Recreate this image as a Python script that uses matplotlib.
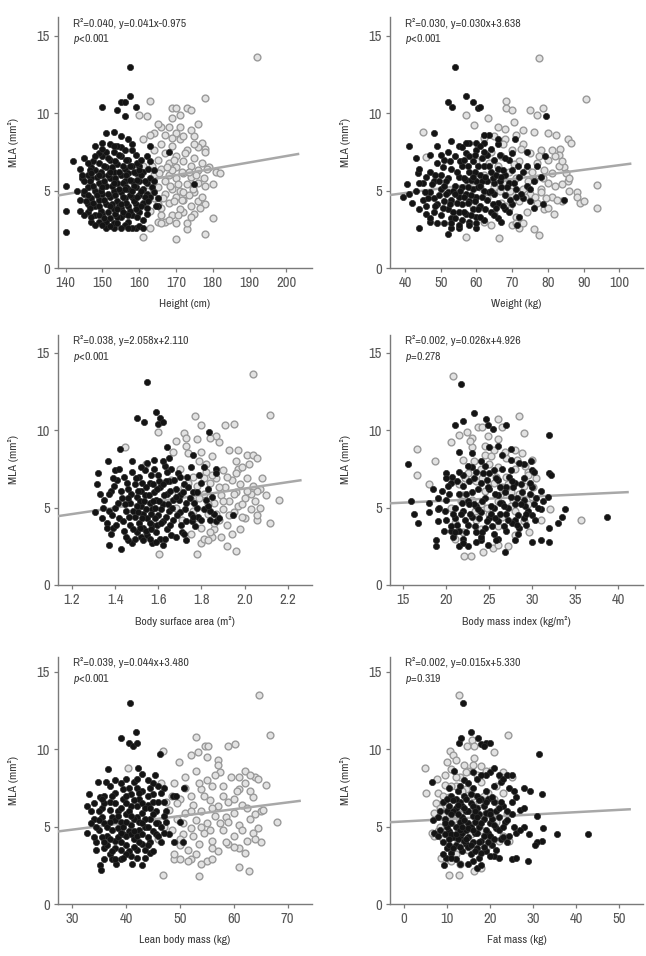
import numpy as np
import matplotlib.pyplot as plt
from matplotlib import font_manager

# ---- data (black = filled dots, gray = open circles) ----
height_black_x = [140, 140, 140, 142, 144, 145, 144.5, 145, 144, 146, 147, 148, 149, 150, 150, 151, 151, 153, 153, 154,
                  155, 156, 156, 157.5, 157.5, 159, 155, 157, 158, 160, 159, 158, 157, 155, 162, 163, 165, 165, 168, 175,
                  164, 162, 146, 147, 147, 148, 148, 148, 149, 149, 149, 150, 150, 150, 150, 151, 151, 151, 152, 152,
                  152, 152, 153, 153, 153, 153, 154, 154, 154, 154, 155, 155, 155, 155, 156, 156, 156, 156, 157, 157,
                  157, 157, 158, 158, 158, 158, 159, 159, 159, 160, 160, 160, 161, 161, 161, 162, 163, 163, 146, 147,
                  145, 146, 148, 151, 153, 156, 160, 149, 152, 155, 158, 151, 154]
height_black_y = [5.3, 3.7, 2.3, 6.9, 6.4, 7.1, 5.8, 4.8, 3.7, 3.6, 3.0, 7.9, 3.0, 10.4, 8.1, 8.7, 2.6, 8.8, 2.6, 10.2,
                  10.7, 10.7, 9.8, 13.0, 11.1, 10.4, 8.5, 8.3, 7.6, 6.6, 2.6, 2.6, 3.0, 3.3, 4.8, 7.9, 4.5, 4.0, 7.5, 5.4,
                  6.3, 5.5, 5.2, 4.5, 5.8, 4.0, 5.0, 6.3, 4.4, 5.5, 6.8, 3.5, 4.8, 6.0, 7.2, 4.1, 5.3, 6.5, 3.2, 4.6,
                  5.8, 7.0, 3.8, 5.0, 6.2, 7.5, 3.3, 4.3, 5.5, 6.7, 3.9, 4.9, 6.0, 7.2, 3.5, 4.5, 5.6, 6.4, 4.0, 5.1,
                  6.1, 7.0, 3.4, 4.6, 5.6, 6.6, 4.1, 5.2, 6.1, 3.6, 4.7, 5.6, 4.2, 5.1, 6.2, 3.9, 4.6, 5.8, 4.1, 6.5,
                  5.0, 6.0, 3.4, 3.0, 2.9, 2.8, 2.7, 7.4, 8.0, 7.8, 8.0, 7.5, 7.9]
height_black_more = [(145.5, 4.3), (146.5, 5.6), (146.5, 3.9), (147.5, 4.2), (147.5, 5.3), (147.5, 6.9), (148.5, 4.7),
                     (148.5, 5.9), (149.5, 3.7), (149.5, 5.0), (149.5, 6.2), (150.5, 4.4), (150.5, 5.6), (150.5, 6.6),
                     (151.5, 3.6), (151.5, 4.8), (151.5, 6.0), (151.5, 7.1), (152.5, 4.1), (152.5, 5.3), (152.5, 6.5),
                     (153.5, 3.5), (153.5, 4.7), (153.5, 5.8), (153.5, 6.9), (154.5, 4.0), (154.5, 5.1), (154.5, 6.2),
                     (154.5, 7.3), (155.5, 3.6), (155.5, 4.6), (155.5, 5.5), (155.5, 6.6), (156.5, 4.2), (156.5, 5.2),
                     (156.5, 6.0), (156.5, 7.0), (157.5, 3.7), (157.5, 4.7), (157.5, 5.7), (157.5, 6.6), (158.5, 4.3),
                     (158.5, 5.3), (158.5, 6.2), (159.5, 3.3), (159.5, 4.6), (159.5, 5.7), (159.5, 6.8), (160.5, 4.0),
                     (160.5, 5.0), (160.5, 6.0), (161.5, 4.6), (161.5, 5.6), (162.5, 4.3), (162.5, 6.4), (163.5, 5.2),
                     (164, 4.9), (146, 4.7), (145, 5.6), (144, 4.4), (143, 5.0),
                     (145, 3.4), (146, 6.8), (147, 3.3), (148, 2.8), (149, 3.4), (150, 2.8), (152, 2.7), (154, 2.9),
                     (155, 2.6), (157, 2.6), (146.5, 6.3), (148, 7.2), (150, 7.7), (153, 7.9), (156, 7.6), (159, 7.3),
                     (160.5, 7.0), (162, 7.2), (163, 6.9), (164, 5.6), (164.5, 4.0), (162, 3.5), (161, 3.1), (149, 4.0),
                     (150, 5.2), (152, 4.0), (153, 5.5), (155, 4.1), (156, 5.1), (158, 5.0), (159, 3.8), (160, 6.3),
                     (147, 6.1), (144.5, 6.0), (161, 2.6), (150.5, 3.2), (154, 3.8), (157, 3.4), (152, 6.2), (149, 6.0)]
height_gray_x = [192, 178, 163, 169, 170, 173, 174, 160, 162, 169, 176, 166, 168, 171, 164, 170, 175, 177, 161, 178,
                 178, 181, 182, 179, 180, 178, 176, 178, 180, 178, 173, 170, 161, 163, 165, 167, 170, 173, 175, 172,
                 163, 164, 164, 165, 165, 166, 166, 166, 167, 167, 167, 168, 168, 168, 169, 169, 169, 170, 170, 170,
                 170, 171, 171, 171, 172, 172, 172, 173, 173, 174, 174, 174, 175, 175, 176, 176, 177, 177, 164, 162,
                 161, 163, 165, 171, 172, 174, 176, 168, 166, 172, 169, 165]
height_gray_y = [13.6, 11.0, 10.8, 10.3, 10.3, 10.3, 10.2, 9.9, 9.8, 9.7, 9.3, 9.1, 9.1, 9.1, 8.7, 8.7, 8.5, 8.1, 8.3, 7.7,
                 7.5, 6.2, 6.1, 6.5, 5.4, 5.3, 4.3, 4.1, 3.2, 2.2, 2.5, 1.9, 2.0, 2.6, 3.0, 3.0, 2.9, 2.9, 3.5, 3.6,
                 3.7, 4.5, 6.0, 5.2, 7.0, 3.9, 6.4, 8.0, 4.8, 5.6, 7.4, 4.2, 6.0, 6.8, 3.4, 5.1, 7.9, 4.6, 5.8, 6.5,
                 7.2, 3.8, 5.0, 8.3, 4.4, 6.1, 6.9, 5.4, 7.6, 4.0, 5.9, 6.6, 4.9, 7.1, 5.5, 6.3, 4.6, 6.8, 7.6, 5.0,
                 6.6, 8.6, 9.3, 9.9, 8.5, 8.9, 7.8, 3.1, 2.9, 4.9, 6.3, 4.1]
height_gray_more = [(165.5, 6.1), (166.5, 4.5), (167.5, 6.5), (168.5, 5.3), (169.5, 4.3), (169.5, 7.0), (170.5, 5.4),
                    (171.5, 6.2), (171.5, 4.4), (172.5, 7.4), (173.5, 4.7), (173.5, 6.2), (174.5, 5.1), (175.5, 6.0),
                    (176.5, 3.9), (177.5, 5.8), (167, 8.6), (169, 8.4), (163.5, 6.6), (178.5, 6.4), (175, 8.0),
                    (170.5, 3.4), (166, 3.4), (174, 3.3)]

weight_black_x = [39.5, 40.5, 41, 41.2, 42, 43.5, 43, 44, 44, 47, 48, 49, 52, 53.2, 54.1, 53, 52, 55, 57, 59,
                  60.5, 61, 58, 60, 62, 63.4, 60, 66, 70.7, 74.1, 71.3, 79.5, 79.3, 78.6, 84.5, 68, 46, 47, 47, 48,
                  48, 48, 49, 49, 50, 50, 50, 51, 51, 52, 52, 52, 53, 53, 53, 54, 54, 55, 55, 55,
                  56, 56, 56, 56, 57, 57, 57, 57, 58, 58, 58, 59, 59, 59, 60, 60, 60, 60, 61, 61,
                  62, 62, 62, 63, 63, 63, 64, 64, 65, 65, 65, 66, 66, 66, 67, 67, 68, 68, 69, 69,
                  70, 70, 71, 72, 73, 74, 75, 76, 45, 44, 46, 51, 53, 55, 57, 61, 62, 47, 45, 43]
weight_black_y = [4.6, 5.4, 7.9, 4.8, 4.2, 6.1, 7.1, 2.6, 6.4, 3.0, 8.7, 7.9, 10.7, 10.4, 13.0, 2.6, 2.2, 2.6, 11.1, 10.7,
                  10.3, 10.4, 8.1, 8.1, 8.1, 8.6, 2.6, 8.0, 8.3, 7.5, 2.8, 9.8, 7.2, 4.1, 4.4, 3.8, 4.0, 4.9, 6.2, 3.6,
                  4.5, 5.6, 4.1, 6.8, 3.4, 5.1, 6.0, 4.3, 7.0, 3.8, 4.9, 5.8, 3.2, 4.4, 6.4, 5.3, 7.2, 3.6, 4.6, 5.9,
                  3.1, 4.1, 5.2, 6.6, 3.5, 4.8, 5.7, 7.4, 3.0, 4.3, 6.2, 3.8, 5.1, 6.9, 3.3, 4.6, 5.6, 7.6, 4.0, 6.0,
                  3.1, 5.0, 6.6, 4.4, 5.6, 7.3, 3.6, 6.2, 4.8, 5.5, 7.0, 3.2, 4.2, 6.4, 5.2, 3.0, 4.7, 6.0, 5.5, 7.0,
                  4.1, 6.3, 5.1, 5.9, 4.5, 6.6, 4.3, 5.6, 5.5, 3.8, 5.9, 2.9, 8.2, 7.9, 8.1, 7.9, 8.6, 7.3, 4.4, 5.0]
weight_black_more = [(46.5, 4.5), (47.5, 5.4), (48.5, 4.0), (48.5, 6.0), (49.5, 4.7), (49.5, 5.6), (50.5, 3.9),
                     (50.5, 6.5), (51.5, 4.8), (51.5, 5.6), (52.5, 4.1), (52.5, 6.9), (53.5, 5.0), (53.5, 3.6),
                     (54.5, 4.2), (54.5, 6.2), (55.5, 5.0), (55.5, 6.9), (56.5, 3.6), (56.5, 4.6), (56.5, 5.8),
                     (57.5, 4.2), (57.5, 5.2), (57.5, 6.6), (58.5, 3.4), (58.5, 4.7), (58.5, 5.7), (59.5, 4.3),
                     (59.5, 6.2), (59.5, 7.3), (60.5, 3.8), (60.5, 5.2), (60.5, 6.6), (61.5, 4.6), (61.5, 5.6),
                     (61.5, 7.1), (62.5, 3.8), (62.5, 5.9), (63.5, 4.9), (63.5, 6.6), (64.5, 4.1), (64.5, 5.8),
                     (65.5, 3.9), (65.5, 6.0), (66.5, 5.6), (66.5, 7.3), (67.5, 4.0), (67.5, 6.3), (68.5, 5.2),
                     (69.5, 4.4), (70.5, 5.5), (71.5, 6.6), (72.5, 4.8), (74, 5.3),
                     (45.5, 4.9), (46, 3.5), (47, 3.2), (49, 2.9), (50, 7.3), (52, 7.5), (53, 2.9), (54, 3.2),
                     (55, 2.8), (56, 7.8), (58, 7.2), (58, 2.8), (60, 2.9), (61, 3.3), (62, 7.5), (64, 7.7),
                     (65, 3.4), (66, 8.3), (68, 7.1), (69, 3.6), (70, 7.4), (71, 4.6), (72, 3.3), (73, 6.2),
                     (75, 5.1), (76, 3.9), (77, 6.6), (78, 5.9), (51, 5.3), (54, 4.8), (56.5, 7.0), (59, 5.9),
                     (61, 5.3), (64, 5.0), (67, 5.9), (44, 5.5)]
weight_gray_x = [45.1, 45.9, 57.1, 57, 59.2, 63.2, 68.2, 68.3, 70, 70.5, 75, 77.6, 78.5, 77, 80, 82.3, 85.5, 86.5, 83.5, 83,
                 82, 84.5, 85, 85.5, 84, 86, 84, 88, 88, 89, 90, 90.7, 93.7, 93.7, 81.6, 76, 77.4, 66.4, 70, 72,
                 73, 62, 63, 64, 65, 65, 65, 66, 67, 67, 68, 68, 69, 69, 70, 70, 71, 71, 72, 72,
                 73, 73, 74, 74, 75, 75, 76, 76, 77, 77, 78, 78, 79, 79, 80, 80, 81, 81, 82, 83,
                 66, 68, 71, 73, 62, 64, 60, 61, 59, 80, 78]
weight_gray_y = [8.8, 7.15, 2.0, 9.9, 9.25, 9.7, 10.8, 10.3, 10.2, 9.4, 10.2, 13.55, 10.3, 9.9, 8.7, 8.6, 8.3, 8.1, 7.7, 7.3,
                 7.2, 6.5, 6.1, 5.6, 5.4, 5.0, 4.3, 4.9, 4.6, 4.2, 4.3, 10.9, 5.35, 3.9, 3.5, 2.5, 2.1, 1.95, 2.8, 2.6,
                 2.9, 6.0, 4.5, 7.5, 3.5, 5.2, 8.5, 6.6, 4.2, 7.2, 5.4, 8.3, 3.9, 6.2, 4.8, 7.6, 5.8, 3.3, 6.9, 4.3,
                 5.1, 8.0, 3.6, 6.4, 4.8, 7.4, 5.7, 8.8, 4.2, 6.8, 5.1, 7.6, 6.3, 3.8, 5.5, 7.0, 4.6, 6.1, 5.3, 6.6,
                 9.1, 9.0, 8.6, 8.9, 3.0, 2.8, 6.9, 5.2, 4.0, 3.9, 4.9]
weight_gray_more = [(63.5, 6.8), (66.5, 5.0), (67.5, 8.0), (69.5, 5.0), (70.5, 6.7), (72.5, 7.7), (73.5, 4.6),
                    (74.5, 5.6), (75.5, 6.2), (76.5, 4.6), (77.5, 7.2), (78.5, 5.8), (79.5, 4.5), (81, 7.6),
                    (82.5, 4.4), (71, 2.9), (84, 6.9), (86, 5.8), (68, 4.0), (62, 8.4)]

bsa_black_x = [1.307, 1.315, 1.322, 1.368, 1.373, 1.426, 1.423, 1.48, 1.50, 1.536, 1.546, 1.59, 1.60, 1.61, 1.62, 1.623,
               1.834, 1.76, 1.87, 1.87, 1.945, 1.87, 1.84, 1.86, 1.727, 1.64, 1.65, 1.35, 1.36, 1.38, 1.39, 1.40,
               1.41, 1.42, 1.43, 1.44, 1.44, 1.45, 1.46, 1.47, 1.47, 1.48, 1.49, 1.49, 1.50, 1.50, 1.51, 1.51,
               1.52, 1.52, 1.53, 1.53, 1.54, 1.54, 1.55, 1.55, 1.56, 1.56, 1.57, 1.57, 1.58, 1.58, 1.59, 1.59,
               1.60, 1.60, 1.61, 1.61, 1.62, 1.62, 1.63, 1.64, 1.64, 1.65, 1.65, 1.66, 1.67, 1.67, 1.68, 1.69,
               1.70, 1.70, 1.71, 1.72, 1.73, 1.73, 1.75, 1.75, 1.76, 1.77, 1.78, 1.80, 1.82, 1.84, 1.37, 1.46,
               1.52, 1.57, 1.48, 1.55, 1.62, 1.39]
bsa_black_y = [4.7, 6.5, 7.2, 8.0, 2.6, 2.3, 8.8, 2.7, 10.8, 10.5, 13.1, 11.2, 10.4, 10.8, 10.5, 2.6,
               9.9, 8.4, 7.5, 7.2, 4.5, 4.1, 4.2, 4.6, 2.9, 8.9, 8.2, 5.5, 4.0, 6.1, 3.7, 5.0,
               6.8, 4.3, 5.6, 3.5, 7.0, 4.8, 6.2, 3.9, 5.3, 7.3, 4.4, 6.5, 3.4, 5.7, 4.0, 7.0,
               5.1, 6.1, 3.7, 4.6, 5.8, 7.4, 3.2, 4.3, 5.3, 6.6, 3.9, 4.9, 6.0, 8.1, 3.4, 5.5,
               4.5, 7.1, 3.0, 6.3, 4.1, 5.2, 7.7, 3.6, 5.9, 4.8, 6.7, 3.2, 5.5, 4.2, 6.2, 7.2,
               4.7, 5.8, 3.4, 6.5, 4.1, 5.3, 4.6, 7.6, 6.0, 3.8, 5.0, 6.6, 5.5, 4.8, 4.8, 2.9,
               3.1, 2.7, 8.0, 7.9, 8.0, 6.9]
bsa_black_more = [(1.345, 5.0), (1.37, 5.9), (1.385, 4.5), (1.395, 6.4), (1.405, 3.9), (1.415, 5.3), (1.425, 6.1),
                  (1.435, 4.1), (1.445, 5.2), (1.455, 6.6), (1.465, 4.4), (1.475, 5.9), (1.485, 3.6), (1.485, 4.8),
                  (1.495, 6.9), (1.505, 4.7), (1.505, 6.1), (1.515, 3.7), (1.515, 5.4), (1.525, 4.3), (1.525, 6.6),
                  (1.535, 5.4), (1.545, 3.5), (1.545, 4.9), (1.545, 6.3), (1.555, 5.8), (1.565, 3.6), (1.565, 4.6),
                  (1.565, 7.1), (1.575, 5.4), (1.575, 6.5), (1.585, 4.3), (1.585, 5.0), (1.595, 6.2), (1.595, 3.9),
                  (1.605, 5.4), (1.605, 6.7), (1.615, 4.0), (1.615, 4.9), (1.625, 5.8), (1.635, 4.4), (1.635, 6.7),
                  (1.645, 5.2), (1.655, 3.9), (1.655, 6.1), (1.665, 5.0), (1.675, 6.8), (1.685, 4.5), (1.695, 5.5),
                  (1.705, 3.9), (1.715, 6.0), (1.725, 4.9), (1.735, 7.0), (1.745, 5.6), (1.755, 4.1), (1.765, 5.3),
                  (1.785, 4.4), (1.79, 7.1), (1.81, 4.9), (1.83, 6.2),
                  (1.33, 5.9), (1.34, 4.3), (1.36, 3.7), (1.38, 3.3), (1.40, 7.4), (1.42, 7.5), (1.45, 3.1),
                  (1.49, 3.0), (1.53, 2.9), (1.56, 3.0), (1.59, 2.8), (1.63, 3.0), (1.66, 7.5), (1.68, 3.1),
                  (1.70, 7.0), (1.72, 3.3), (1.74, 6.3), (1.76, 4.4), (1.78, 6.0), (1.80, 4.2), (1.81, 7.6),
                  (1.83, 5.1), (1.85, 5.7), (1.88, 4.3), (1.52, 7.6), (1.58, 7.5), (1.64, 7.3), (1.46, 5.6),
                  (1.50, 5.1), (1.56, 4.0), (1.62, 6.5), (1.68, 5.7)]
bsa_gray_x = [1.448, 1.544, 1.53, 1.605, 1.60, 1.68, 1.72, 1.73, 1.77, 1.80, 1.78, 1.80, 1.81, 1.85, 1.83, 1.87,
              1.91, 1.95, 1.93, 1.97, 2.04, 2.01, 2.04, 2.06, 2.02, 2.12, 2.16, 2.12, 2.07, 2.06, 2.06, 2.07,
              2.06, 2.00, 1.98, 1.96, 1.92, 1.94, 1.97, 1.99, 1.96, 2.03, 1.66, 1.68, 1.70, 1.72, 1.74, 1.75,
              1.76, 1.77, 1.78, 1.79, 1.80, 1.81, 1.82, 1.83, 1.84, 1.85, 1.86, 1.86, 1.87, 1.88, 1.89, 1.90,
              1.90, 1.91, 1.92, 1.93, 1.94, 1.95, 1.96, 1.97, 1.98, 1.99, 2.00, 2.01, 2.03, 2.04, 1.88, 1.84,
              1.82, 1.78, 1.73, 1.86, 1.89, 1.71, 1.69]
bsa_gray_y = [8.9, 7.8, 3.1, 2.0, 9.9, 9.3, 9.8, 9.0, 10.9, 10.3, 2.0, 2.7, 3.0, 3.1, 2.9, 9.6,
              10.3, 10.4, 8.7, 8.7, 13.6, 8.4, 8.4, 8.2, 7.8, 11.0, 5.5, 4.0, 5.0, 4.2, 4.5, 6.2,
              6.1, 4.3, 3.6, 2.2, 2.5, 3.3, 7.5, 7.6, 7.2, 5.9, 6.8, 5.0, 7.5, 6.3, 8.5, 5.5,
              7.0, 4.3, 6.4, 8.0, 3.7, 5.9, 7.3, 4.6, 6.6, 8.3, 3.6, 5.3, 6.9, 4.2, 5.8, 7.4,
              4.9, 6.3, 3.9, 5.4, 6.8, 4.7, 6.0, 5.1, 6.5, 4.4, 5.6, 6.9, 4.9, 6.4, 9.2, 9.5,
              7.8, 9.4, 9.5, 4.0, 3.1, 4.2, 6.0]
bsa_gray_more = [(1.74, 6.6), (1.76, 4.8), (1.79, 5.6), (1.81, 6.9), (1.83, 5.2), (1.85, 7.1), (1.87, 4.6),
                 (1.88, 6.3), (1.90, 5.4), (1.92, 7.0), (1.93, 4.5), (1.95, 5.9), (1.96, 8.0), (1.99, 5.2),
                 (2.01, 6.1), (2.05, 5.4), (2.08, 6.9), (1.80, 8.6), (1.75, 3.3), (1.84, 3.4), (2.10, 5.8),
                 (1.67, 8.6)]

bmi_black_x = [15.5, 15.9, 16.2, 16.7, 18, 18, 19, 19, 18.8, 18.8, 20, 20, 21, 21.5, 22, 21.7, 23.2, 24.6, 24.9, 25.4,
               26.9, 29, 29.9, 30, 30.2, 32, 32, 32.2, 31.8, 31.9, 31.9, 33, 33.5, 33.8, 38.7, 31, 30, 26.8, 24, 22.5,
               21.5, 20.5, 28, 29, 30, 31, 31, 28.8, 19.5, 20, 20, 20.5, 20.5, 21, 21, 21.5, 21.5, 22, 22, 22,
               22.5, 22.5, 23, 23, 23, 23.5, 23.5, 24, 24, 24, 24.5, 24.5, 25, 25, 25, 25.5, 25.5, 26, 26, 26,
               26.5, 26.5, 27, 27, 27, 27.5, 27.5, 28, 28, 28, 28.5, 28.5, 29, 29, 29.5, 30, 30.5, 23, 25, 26,
               22, 24, 26, 19, 18.5, 27.5]
bmi_black_y = [7.8, 5.4, 4.6, 4.0, 5.3, 4.7, 4.9, 4.1, 2.9, 2.5, 7.2, 6.9, 10.3, 8.6, 10.6, 13.0, 11.1, 10.7, 10.3, 10.1,
               10.3, 7.8, 8.0, 7.4, 7.3, 9.7, 7.2, 7.1, 5.7, 3.7, 2.8, 4.0, 4.4, 4.9, 4.4, 2.9, 2.8, 2.1, 2.9, 2.5,
               2.5, 3.5, 2.9, 4.3, 4.5, 4.9, 6.1, 6.0, 6.1, 5.5, 4.2, 3.8, 6.6, 5.0, 4.3, 5.9, 3.5, 4.8, 6.4, 7.1,
               5.4, 3.9, 6.0, 4.4, 7.6, 5.1, 3.4, 6.6, 4.7, 8.0, 5.6, 3.7, 4.3, 6.2, 7.2, 5.0, 3.3, 5.8, 4.1, 6.8,
               5.3, 8.4, 4.6, 6.3, 3.5, 5.7, 7.4, 4.2, 5.2, 6.6, 3.7, 7.9, 5.5, 6.9, 4.8, 6.3, 5.6, 8.5, 8.9, 9.0,
               3.0, 3.1, 3.0, 5.6, 6.2, 8.8]
bmi_black_more = [(19.8, 4.8), (20.3, 5.9), (20.8, 4.6), (21.2, 6.7), (21.3, 3.9), (21.8, 5.3), (22.2, 4.2),
                  (22.3, 5.9), (22.7, 6.7), (22.8, 4.6), (23.2, 5.2), (23.3, 3.8), (23.7, 6.2), (23.8, 4.3),
                  (24.2, 5.4), (24.3, 7.2), (24.7, 4.1), (24.8, 6.3), (25.2, 5.1), (25.3, 3.8), (25.7, 5.9),
                  (25.8, 6.9), (26.2, 4.6), (26.3, 5.3), (26.7, 3.8), (26.8, 6.0), (27.2, 5.0), (27.3, 7.0),
                  (27.7, 4.0), (27.8, 6.3), (28.2, 5.6), (28.3, 4.5), (28.7, 6.5), (29.2, 5.1), (29.3, 3.9),
                  (29.8, 5.9), (30.2, 5.2), (22.5, 7.7), (24.5, 7.7), (26.5, 7.5), (20.8, 3.1), (23.5, 2.8),
                  (25.8, 2.9), (28.3, 3.3), (21.5, 7.3),
                  (19.2, 5.0), (19.7, 3.5), (20.2, 6.4), (20.7, 7.0), (21.0, 3.4), (21.7, 4.6), (22.3, 3.4),
                  (22.7, 5.2), (23.2, 6.9), (23.7, 4.9), (24.2, 3.4), (24.7, 6.8), (25.2, 4.6), (25.7, 4.3),
                  (26.2, 6.3), (26.7, 5.1), (27.2, 4.2), (27.7, 6.7), (28.2, 3.9), (28.7, 5.2), (29.3, 4.6),
                  (29.7, 6.6), (30.3, 4.2), (30.7, 5.0), (31.3, 5.4), (23.5, 7.3), (25.5, 7.4), (27.5, 8.1),
                  (22, 2.7), (24.8, 2.6)]
bmi_gray_x = [16.55, 16.55, 18.0, 18.7, 20.8, 20.5, 21.5, 22.4, 23.0, 23.75, 24.2, 24.5, 26.0, 26.5, 26.0, 28.5, 29.1, 28.8,
              29.5, 29.5, 30.0, 30.0, 32.1, 35.7, 29.6, 25.4, 24.3, 22.9, 22.1, 21.0, 22.0, 27.2, 26.0, 28.0, 21.5, 22.0,
              22.5, 23.0, 23.0, 23.5, 23.5, 24.0, 24.0, 24.5, 24.5, 25.0, 25.0, 25.5, 25.5, 26.0, 26.0, 26.5, 26.5, 27.0,
              27.0, 27.5, 27.5, 28.0, 28.0, 28.5, 29.0, 29.0, 29.5, 30.5, 20.5, 21.0, 22.0, 24.0, 26.0, 31.0, 28.0, 24.8,
              22.8]
bmi_gray_y = [8.8, 7.1, 6.5, 8.0, 13.5, 9.2, 9.7, 9.9, 9.5, 10.2, 10.2, 9.0, 10.7, 10.2, 9.4, 10.9, 9.8, 8.5,
              7.3, 7.1, 8.1, 5.7, 4.9, 4.2, 3.4, 2.4, 2.1, 1.85, 1.9, 3.0, 3.4, 2.5, 2.6, 3.2, 6.5, 8.1,
              7.2, 5.5, 8.9, 6.7, 4.2, 7.5, 5.2, 8.4, 6.1, 4.6, 7.8, 6.6, 8.7, 5.4, 7.6, 4.4, 6.3, 7.0,
              8.2, 5.1, 6.0, 7.5, 4.8, 5.9, 6.4, 4.1, 5.2, 6.9, 5.0, 4.0, 5.8, 3.6, 3.8, 4.2, 8.7, 9.6,
              9.3]
bmi_gray_more = [(22.2, 6.9), (23.2, 8.0), (24.2, 6.9), (25.2, 8.3), (25.8, 7.0), (26.8, 8.6), (27.2, 6.5),
                 (28.2, 8.1), (24.7, 5.0), (26.3, 5.8), (27.8, 5.5), (23.3, 4.8), (29.2, 7.7), (30.1, 6.3),
                 (21.7, 5.4)]

lbm_black_x = [33.2, 32.8, 33.5, 32.8, 34.9, 35.1, 35.1, 35.3, 36.3, 36.6, 38.2, 39.1, 40.5, 40.7, 41.4, 41.9, 42.1, 42.2, 43, 41.1,
               42.9, 45.4, 46.3, 47, 47, 48.7, 49.3, 50.7, 48, 49, 50.1, 50.5, 47.5, 34, 34.5, 35, 35.5, 36, 36, 36.5,
               37, 37, 37.5, 38, 38, 38.5, 38.5, 39, 39, 39.5, 39.5, 40, 40, 40.5, 40.5, 41, 41, 41, 41.5, 41.5,
               42, 42, 42.5, 42.5, 43, 43, 43, 43.5, 44, 44, 44.5, 44.5, 45, 45, 45.5, 46, 46, 46.5, 47, 36,
               38, 40, 42, 39, 43.5, 37.5, 44]
lbm_black_y = [7.1, 6.3, 6.0, 4.6, 7.9, 6.9, 2.5, 2.2, 7.9, 8.7, 2.6, 10.7, 10.4, 13.0, 10.2, 11.1, 10.4, 8.8, 8.4, 2.6,
               2.5, 8.3, 9.7, 7.5, 6.6, 7.0, 7.0, 7.5, 4.5, 4.0, 5.3, 4.0, 6.0, 5.5, 4.0, 4.8, 6.2, 3.6, 5.2, 4.4,
               6.6, 3.2, 5.6, 4.1, 7.2, 4.9, 6.0, 3.5, 5.3, 4.5, 6.8, 3.8, 5.8, 4.7, 7.5, 3.1, 5.1, 6.3, 4.2, 7.9,
               5.6, 3.5, 4.8, 6.8, 3.9, 5.9, 7.3, 5.0, 4.3, 6.4, 3.3, 5.5, 7.1, 4.7, 6.0, 5.2, 7.6, 4.0, 5.7, 7.0,
               8.0, 8.1, 8.1, 2.9, 3.0, 2.9, 8.0]
lbm_black_more = [(34.5, 5.0), (35, 6.0), (35.5, 4.3), (35.5, 5.6), (36, 6.5), (36.5, 3.8), (36.5, 5.0), (37, 4.2),
                  (37, 6.1), (37.5, 4.8), (37.5, 7.0), (38, 3.6), (38, 5.4), (38, 6.5), (38.5, 4.3), (39, 4.0),
                  (39, 6.2), (39.5, 5.0), (39.5, 7.4), (40, 4.4), (40, 5.3), (40, 6.5), (40.5, 3.4), (40.5, 6.0),
                  (41, 4.5), (41, 7.1), (41.5, 5.5), (41.5, 3.7), (42, 4.4), (42, 6.3), (42, 7.5), (42.5, 5.3),
                  (43, 4.5), (43, 6.5), (43.5, 5.5), (43.5, 3.5), (44, 5.0), (44, 7.0), (44.5, 4.0), (45, 5.8),
                  (45, 6.6), (45.5, 4.5), (46, 6.6), (46.5, 5.0), (44.5, 7.5), (41.5, 6.7), (39, 7.8), (37, 7.6),
                  (36, 4.0), (34, 6.5),
                  (33.5, 5.2), (34, 4.3), (34.5, 3.5), (35, 5.4), (35.5, 6.8), (36, 2.9), (37, 5.3), (37.5, 3.4),
                  (38, 2.9), (38.5, 5.7), (39, 4.6), (40, 3.2), (40, 7.0), (41, 5.7), (41.5, 4.7), (42, 3.0),
                  (42.5, 4.0), (42.5, 7.2), (43, 5.2), (43.5, 6.2), (44, 3.8), (44.5, 6.2), (45, 3.4), (45.5, 5.2),
                  (46, 4.4), (46.5, 7.2), (47, 4.6), (47.5, 5.3), (45, 7.8), (39.5, 3.0)]
lbm_gray_x = [40.4, 46.8, 46.9, 49.8, 52.9, 54.6, 55.2, 53.4, 52.0, 57.1, 58.9, 60.3, 64.6, 66.7, 68.1, 65.0, 65.5, 65.1, 64.5, 63.5,
              64.0, 62.5, 61.0, 62.8, 61.0, 53.6, 55.0, 56.0, 54.0, 52.0, 49.0, 50.0, 51.5, 62.0, 64.0, 63.0, 64.5, 66.0, 61.0, 48.0,
              48.5, 49.0, 49.5, 50.0, 50.0, 50.5, 51.0, 51.0, 51.5, 52.0, 52.0, 52.5, 53.0, 53.0, 53.5, 54.0, 54.0, 54.5, 55.0, 55.0,
              55.5, 56.0, 56.0, 56.5, 57.0, 57.0, 57.5, 58.0, 58.0, 58.5, 59.0, 59.0, 59.5, 60.0, 60.0, 60.5, 61.0, 61.5, 62.0, 62.0,
              63.0, 63.5, 47.0, 46.0, 46.5, 49.0, 57.0, 55.0]
lbm_gray_y = [8.8, 9.9, 1.9, 9.2, 10.8, 10.2, 10.2, 9.8, 9.6, 9.3, 10.2, 10.3, 13.5, 10.9, 5.3, 6.0, 6.1, 4.0, 4.9, 4.6,
              4.2, 4.1, 3.6, 2.1, 2.4, 1.8, 2.8, 2.9, 2.6, 2.9, 2.9, 2.9, 2.8, 8.6, 8.2, 8.3, 8.1, 7.7, 7.4, 6.1,
              4.8, 7.8, 5.5, 3.8, 6.8, 4.5, 8.2, 5.9, 3.5, 7.0, 4.9, 6.4, 5.4, 8.6, 3.9, 7.4, 6.0, 4.6, 8.0, 5.2,
              6.7, 4.1, 7.6, 5.7, 3.4, 6.3, 8.5, 4.8, 7.0, 5.6, 3.9, 6.6, 8.2, 4.4, 5.9, 7.3, 5.1, 6.4, 3.3, 7.8,
              5.5, 6.9, 5.0, 4.2, 7.8, 3.2, 9.0, 9.5]
lbm_gray_more = [(48.5, 7.0), (49.5, 6.5), (50.5, 5.2), (51, 7.5), (52, 6.0), (52.5, 4.4), (53.5, 7.8), (54, 5.0),
                 (54.5, 7.0), (55.5, 4.8), (56, 6.2), (56.5, 8.3), (57.5, 5.2), (58, 7.6), (58.5, 4.0), (59, 5.3),
                 (60, 6.8), (61, 8.2), (61.5, 4.8), (62.5, 6.2), (63, 7.3), (64, 5.8), (47.5, 6.6), (50, 4.2),
                 (53, 3.2), (56, 3.6), (60, 3.7)]

fat_black_x = [6.6, 6.8, 6.9, 8, 9.3, 9.9, 11.6, 12.7, 13.2, 13.7, 15.6, 17.3, 18.0, 19, 18.5, 19.9, 20, 21.0, 22.5, 22,
               23, 24, 25, 24.5, 25.5, 28.0, 29.2, 31.3, 31, 32.0, 32.4, 32, 31, 30.5, 29, 28, 28.8, 25, 26, 35.6,
               42.7, 22, 21, 17.0, 18, 15, 13, 9, 9.5, 10, 10, 10.5, 11, 11, 11, 11.5, 12, 12, 12.5, 12.5,
               13, 13, 13.5, 13.5, 14, 14, 14.5, 14.5, 15, 15, 15.5, 15.5, 16, 16, 16.5, 17, 17, 17.5, 18, 18,
               18.5, 19, 19, 19.5, 20, 20, 20.5, 21, 21.5, 22, 22.5, 23, 23.5, 24, 25, 26, 27, 26, 8.5, 14,
               17, 19, 12, 16, 20]
fat_black_y = [7.9, 5.4, 4.6, 4.4, 2.5, 3.0, 8.6, 10.4, 10.7, 13.0, 11.1, 10.7, 10.3, 10.4, 10.2, 10.4, 8.5, 8.8, 7.9, 8.3,
               8.1, 8.3, 8.3, 7.5, 7.3, 7.5, 7.3, 9.7, 5.7, 7.1, 4.9, 4.1, 4.0, 3.8, 4.5, 5.0, 2.8, 2.9, 3.0, 4.5,
               4.5, 3.0, 3.1, 2.3, 2.5, 2.6, 2.6, 4.0, 5.5, 3.6, 6.0, 4.7, 3.3, 5.2, 7.0, 4.3, 6.2, 3.8, 5.0, 7.3,
               4.4, 6.6, 3.4, 5.6, 4.8, 7.0, 6.0, 3.9, 5.2, 4.3, 6.5, 3.2, 5.7, 7.5, 4.6, 6.2, 3.6, 5.0, 4.1, 6.8,
               5.5, 3.4, 7.3, 4.6, 6.0, 5.2, 3.8, 6.6, 4.9, 5.6, 4.2, 6.3, 5.3, 4.0, 5.8, 4.6, 6.1, 6.9, 6.0, 8.0,
               8.1, 8.3, 2.9, 2.8, 3.1]
fat_black_more = [(9.5, 4.5), (10, 5.0), (10.5, 6.3), (10.5, 3.8), (11, 4.5), (11.5, 6.0), (11.5, 3.6), (12, 5.0),
                  (12, 6.8), (12.5, 4.2), (12.5, 5.8), (13, 3.7), (13, 5.3), (13.5, 4.6), (13.5, 6.3), (14, 4.1),
                  (14, 5.4), (14.5, 4.8), (14.5, 6.8), (15, 3.7), (15, 6.0), (15.5, 5.0), (15.5, 7.1), (16, 4.0),
                  (16, 6.3), (16.5, 5.3), (16.5, 3.4), (17, 4.6), (17, 7.0), (17.5, 5.8), (17.5, 4.0), (18, 5.2),
                  (18.5, 6.3), (18.5, 3.7), (19, 4.8), (19, 5.9), (19.5, 6.8), (20, 4.4), (20.5, 5.5), (20.5, 6.9),
                  (21, 4.2), (21.5, 6.0), (22, 4.8), (22.5, 6.6), (23, 5.0), (24, 5.4), (25, 6.6), (24.5, 4.4),
                  (13, 7.6), (15, 7.8), (11, 3.0), (17.5, 3.0), (10.5, 7.5), (9, 6.6),
                  (8, 5.6), (8.5, 4.8), (9, 3.2), (9.5, 5.2), (10, 6.8), (10.5, 4.2), (11, 5.8), (11.5, 6.7),
                  (12, 4.5), (12.5, 6.4), (13, 4.8), (13.5, 5.0), (14, 6.2), (14.5, 4.2), (15, 4.9), (15.5, 3.8),
                  (16, 4.8), (16.5, 6.0), (17, 5.6), (17.5, 6.7), (18, 3.3), (18.5, 4.4), (19, 6.6), (19.5, 4.0),
                  (20, 5.8), (21, 5.1), (21.5, 3.5), (22, 6.2), (23, 4.3), (24, 6.0), (25.5, 5.0), (27, 4.8),
                  (28, 6.2), (16, 8.5), (18, 8.3), (21, 7.6)]
fat_gray_x = [4.9, 5.2, 7.6, 7.4, 8.0, 9.5, 10.1, 10.7, 11.5, 12.9, 12.8, 10.5, 8.7, 10.5, 14.6, 15.8, 16.3, 16.3, 18.0, 20.0,
              20.9, 23.0, 24.2, 25.0, 24.4, 23.0, 24.0, 22.0, 22.0, 18.0, 16.3, 9.0, 7.0, 8.0, 8.5, 7.0, 6.5, 9.0, 9.5, 10.0,
              10.5, 11.0, 11.5, 12.0, 12.0, 12.5, 13.0, 13.5, 14.0, 14.0, 14.5, 15.0, 15.5, 16.0, 16.5, 17.0, 17.5, 18.0, 18.0, 19.0,
              19.5, 20.0, 21.0, 21.5, 23.0, 12.0, 15.0, 19.0, 11.0, 13.0]
fat_gray_y = [8.8, 7.2, 8.1, 6.5, 7.2, 7.7, 9.2, 9.9, 9.6, 13.5, 1.85, 1.9, 3.0, 2.9, 10.2, 10.6, 10.2, 9.4, 8.9, 8.6,
              9.8, 8.5, 10.9, 8.2, 4.1, 4.4, 5.9, 4.1, 6.3, 2.3, 2.1, 7.0, 4.4, 4.7, 5.0, 5.9, 4.6, 5.8, 8.3, 4.8,
              6.9, 8.7, 5.4, 7.6, 9.3, 4.1, 8.2, 6.2, 9.0, 5.0, 7.4, 8.6, 4.5, 7.0, 5.8, 8.3, 6.6, 7.9, 4.8, 5.9,
              7.2, 4.3, 6.8, 5.3, 7.2, 3.2, 3.5, 3.6, 2.8, 2.6]
fat_gray_more = [(9.5, 6.4), (10.5, 5.6), (11, 7.6), (12, 8.2), (13, 5.8), (13.5, 7.3), (14.5, 8.5), (15.5, 6.0),
                 (16, 9.0), (17, 5.3), (18.5, 7.0), (19, 8.6), (20.5, 5.6), (21.5, 7.6), (22.5, 8.2), (8.5, 6.2),
                 (9, 4.2), (11.5, 4.4)]

x_labels = ['Height (cm)', 'Weight (kg)', 'Body surface area (m\u00b2)',
            'Body mass index (kg/m\u00b2)', 'Lean body mass (kg)', 'Fat mass (kg)']
r2_texts = ['R\u00b2=0.040, y=0.041x-0.975', 'R\u00b2=0.030, y=0.030x+3.638', 'R\u00b2=0.038, y=2.058x+2.110',
            'R\u00b2=0.002, y=0.026x+4.926', 'R\u00b2=0.039, y=0.044x+3.480', 'R\u00b2=0.002, y=0.015x+5.330']
p_texts = ['<0.001', '<0.001', '<0.001', '=0.278', '<0.001', '=0.319']
slopes = [0.041, 0.030, 2.058, 0.026, 0.044, 0.015]
intercepts = [-0.975, 3.638, 2.110, 4.926, 3.480, 5.330]
line_end = [203.2, 103.0, 2.259, 41.1, 72.2, 52.4]
x_ticks = [[140, 150, 160, 170, 180, 190, 200], [40, 50, 60, 70, 80, 90, 100],
           [1.2, 1.4, 1.6, 1.8, 2.0, 2.2], [15, 20, 25, 30, 35, 40],
           [30, 40, 50, 60, 70], [0, 10, 20, 30, 40, 50]]
x_tick_labels = [None, None, ['1.2', '1.4', '1.6', '1.8', '2.0', '2.2'], None, None, None]
x_limits = [(137.9, 207.0), (35.8, 106.6), (1.135, 2.313), (13.45, 42.9), (27.4, 74.5), (-3.2, 55.5)]
y_ticks = [0, 5, 10, 15]

blacks = [(height_black_x, height_black_y, height_black_more), (weight_black_x, weight_black_y, weight_black_more),
          (bsa_black_x, bsa_black_y, bsa_black_more), (bmi_black_x, bmi_black_y, bmi_black_more),
          (lbm_black_x, lbm_black_y, lbm_black_more), (fat_black_x, fat_black_y, fat_black_more)]
grays = [(height_gray_x, height_gray_y, height_gray_more), (weight_gray_x, weight_gray_y, weight_gray_more),
         (bsa_gray_x, bsa_gray_y, bsa_gray_more), (bmi_gray_x, bmi_gray_y, bmi_gray_more),
         (lbm_gray_x, lbm_gray_y, lbm_gray_more), (fat_gray_x, fat_gray_y, fat_gray_more)]


def points(series):
    xs, ys, more = series
    return list(xs) + [p[0] for p in more], list(ys) + [p[1] for p in more]


# ---- font: prefer a narrow/condensed face, the original uses a condensed sans ----
fm = font_manager.fontManager
narrow = [f for f in fm.ttflist if ('Narrow' in f.name or 'Condensed' in f.name) and f.style == 'normal']
cond_dejavu = [f for f in fm.ttflist if f.name == 'DejaVu Sans' and 'condensed' in str(f.stretch) and f.style == 'normal']
font_size = 8.5
tick_size = 10.5
if narrow:
    fam = [narrow[0].name, 'DejaVu Sans']
elif cond_dejavu:
    fam = ['DejaVu Sans', 'DejaVu Sans']
    plt.rcParams['font.stretch'] = 'condensed'
    font_size, tick_size = 8.0, 9.0
else:
    fam = ['Roboto', 'DejaVu Sans']
    font_size, tick_size = 8.0, 9.0
plt.rcParams['font.family'] = fam
plt.rcParams['mathtext.fontset'] = 'custom'
plt.rcParams['mathtext.it'] = fam[0] + ':italic'
plt.rcParams['mathtext.rm'] = fam[0]
text_col = '#3a3a3a'
tick_text_col = '#555555'
axis_col = '#7a7a7a'

fig = plt.figure(figsize=(6.46, 9.56), dpi=100)
col_left = [58 / 646, 390 / 646]
col_width = [254 / 646, 253 / 646]
row_bottom = [1 - 268 / 956, 1 - 585 / 956, 1 - 904 / 956]
row_height = [251 / 956, 250 / 956, 247 / 956]
row_ytop = [16.2, 16.14, 15.95]

for i in range(6):
    r, c = divmod(i, 2)
    ax = fig.add_axes([col_left[c], row_bottom[r], col_width[c], row_height[r]])
    gx, gy = points(grays[i])
    bx, by = points(blacks[i])
    ax.scatter(gx, gy, s=24, facecolor='#e2e2e2', edgecolor='#9a9a9a', linewidth=1.0, zorder=2)
    xs = np.array([x_limits[i][0], line_end[i]])
    ax.plot(xs, slopes[i] * xs + intercepts[i], color='#a8a8a8', linewidth=1.8, zorder=3)
    ax.scatter(bx, by, s=20, color='#141414', edgecolor='#2a2a2a', linewidth=0.5, zorder=4)

    ax.set_xlim(*x_limits[i])
    ax.set_ylim(0, row_ytop[r])
    ax.set_xticks(x_ticks[i])
    if x_tick_labels[i] is not None:
        ax.set_xticklabels(x_tick_labels[i])
    ax.set_yticks(y_ticks)
    for side in ['top', 'right']:
        ax.spines[side].set_visible(False)
    for side in ['left', 'bottom']:
        ax.spines[side].set_color(axis_col)
        ax.spines[side].set_linewidth(1.0)
    ax.tick_params(colors=axis_col, labelcolor=tick_text_col, labelsize=tick_size, length=3, width=0.9, pad=3)

    ax.set_xlabel(x_labels[i], fontsize=font_size, color=text_col)
    ax.xaxis.set_label_coords(0.5, -0.125)
    ax.set_ylabel('MLA (mm\u00b2)', fontsize=font_size, color=text_col)
    ax.yaxis.set_label_coords(-0.155, 0.5)

    ax.text(0.06, 0.976, r2_texts[i], transform=ax.transAxes, fontsize=font_size, color=text_col, va='center')
    ax.text(0.06, 0.912, r'$p$' + p_texts[i], transform=ax.transAxes, fontsize=font_size, color=text_col, va='center')

fig.savefig('out.png', dpi=100)
